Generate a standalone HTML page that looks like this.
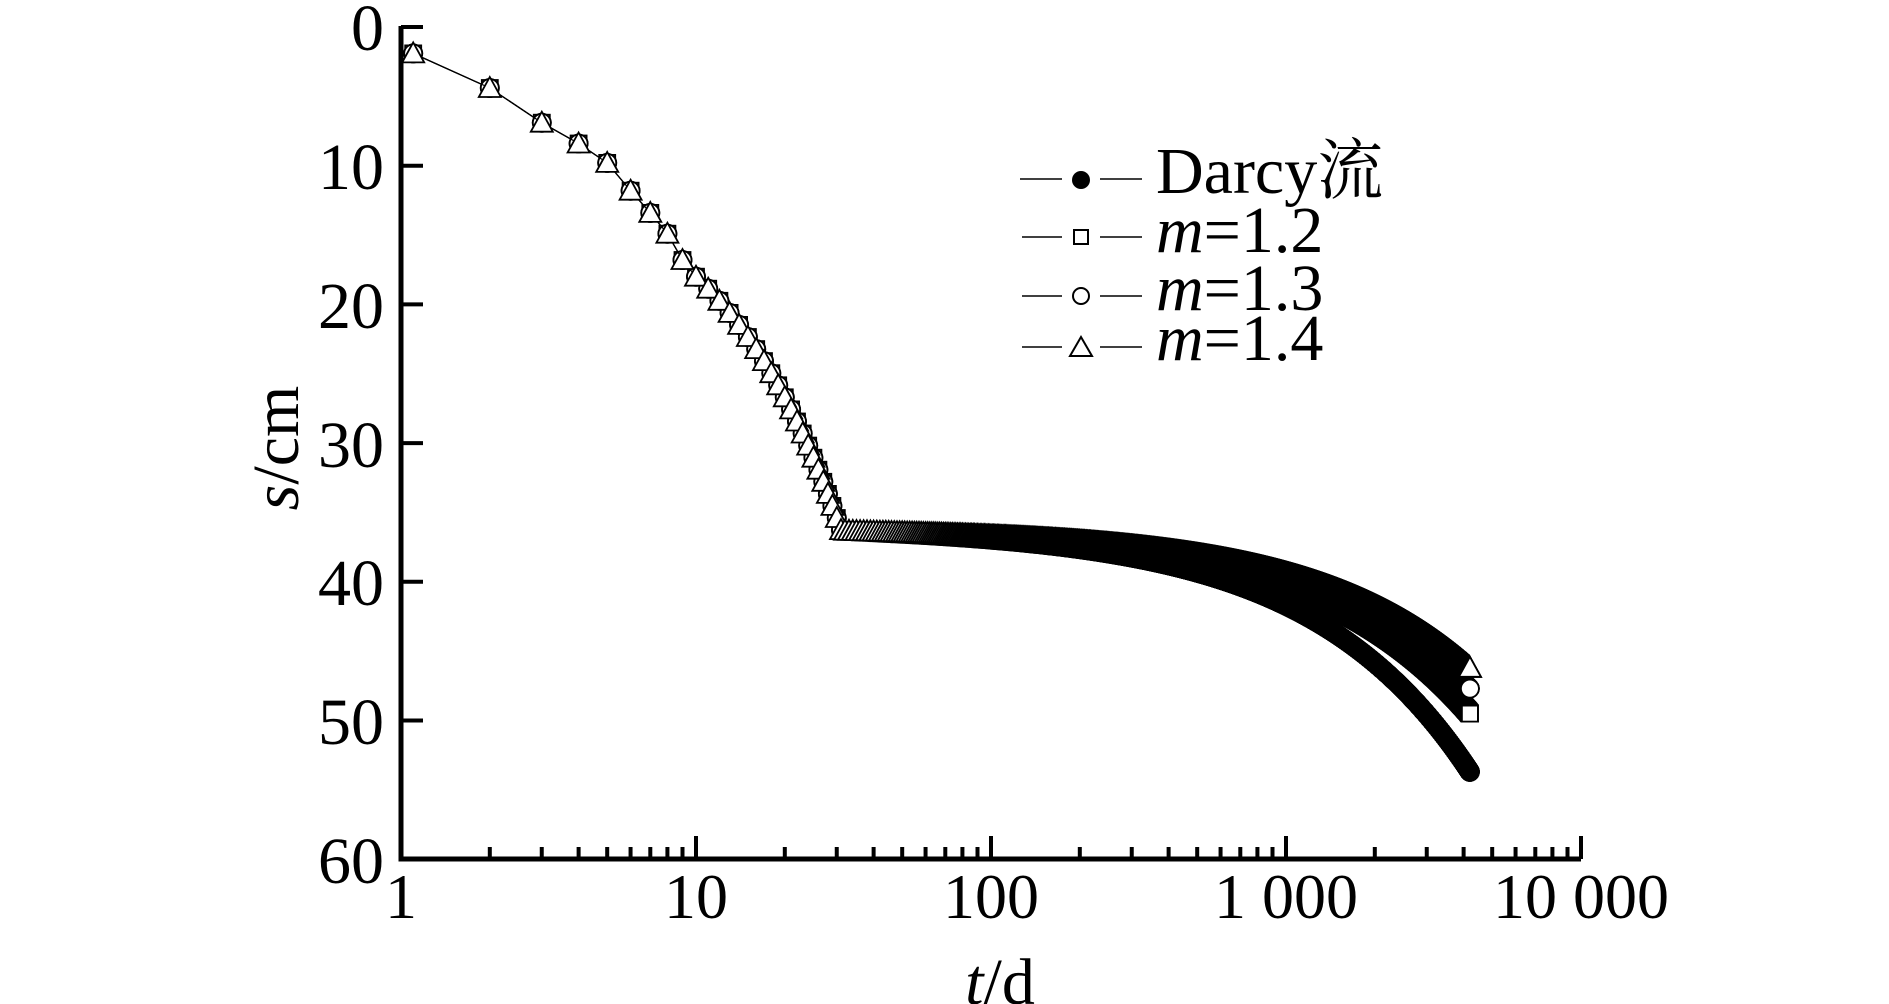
<!DOCTYPE html>
<html><head><meta charset="utf-8"><style>
html,body{margin:0;padding:0;background:#fff;width:1889px;height:1004px;overflow:hidden}
svg{display:block}
text{font-family:"Liberation Serif","Noto Serif CJK SC",serif;fill:#000}
</style></head><body>
<svg id="s" width="1889" height="1004" viewBox="0 0 1889 1004" xmlns="http://www.w3.org/2000/svg">
<g id="data"></g>
<g stroke="#000" stroke-width="5" fill="none">
<path d="M401 26 V859 H1581"/>
</g>
<g id="ticks" stroke="#000" stroke-width="4"></g>
<g font-size="66" text-anchor="end">
<text x="384" y="50">0</text>
<text x="384" y="189">10</text>
<text x="384" y="328">20</text>
<text x="384" y="467">30</text>
<text x="384" y="605">40</text>
<text x="384" y="744">50</text>
<text x="384" y="883">60</text>
</g>
<g font-size="64" text-anchor="middle">
<text x="401" y="918">1</text>
<text x="696" y="918">10</text>
<text x="991" y="918">100</text>
<text x="1286" y="918">1 000</text>
<text x="1581" y="918">10 000</text>
</g>
<text x="1000" y="1004" font-size="66" text-anchor="middle"><tspan font-style="italic">t</tspan>/d</text>
<text transform="translate(298,448) rotate(-90)" font-size="66" text-anchor="middle"><tspan font-style="italic">s</tspan>/cm</text>
<g stroke="#000" stroke-width="1.5" fill="none">
<path d="M1020 179H1062M1100 179H1142"/>
<path d="M1022 237H1062M1100 237H1142"/>
<path d="M1022 296H1062M1100 296H1142"/>
<path d="M1022 347H1062M1100 347H1142"/>
</g>
<circle cx="1081" cy="180" r="9" fill="#000"/>
<rect x="1074" y="230" width="14" height="14" fill="#fff" stroke="#000" stroke-width="2"/>
<circle cx="1081" cy="296" r="8" fill="#fff" stroke="#000" stroke-width="2"/>
<path d="M1081 337 L1092 356 L1070 356Z" fill="#fff" stroke="#000" stroke-width="2"/>
<g font-size="66">
<text x="1156" y="193">Darcy流</text>
<text x="1156" y="252"><tspan font-style="italic">m</tspan>=1.2</text>
<text x="1156" y="310"><tspan font-style="italic">m</tspan>=1.3</text>
<text x="1156" y="360"><tspan font-style="italic">m</tspan>=1.4</text>
</g>
</svg>
<script>
(function(){
var NS="http://www.w3.org/2000/svg";
function X(t){return 401+295*Math.log10(t);}
function Y(s){return 27+13.87*s;}
var tk=document.getElementById('ticks');
function ln(x1,y1,x2,y2){var l=document.createElementNS(NS,'line');l.setAttribute('x1',x1);l.setAttribute('y1',y1);l.setAttribute('x2',x2);l.setAttribute('y2',y2);tk.appendChild(l);}
for(var i=0;i<=60;i+=10){ln(401,Y(i),423,Y(i));}
for(var d=1;d<=1000;d*=10){for(var k=1;k<=10;k++){var t=d*k;var x=X(t);if(x>1583)continue;ln(x,859,x,(k==1||k==10)?836:847);}}
var early={1:1.9,2:4.4,3:6.9,4:8.4,5:9.8,6:11.8,7:13.4,8:14.9,9:16.8,10:18};
function base(t){if(t<=10)return early[t];if(t<=31)return 18+(t-10)*0.87;return null;}
var ends=[17.4,13.2,11.4,9.9];
var P=0.8, TE=Math.pow(4200-31,P);
function s(t,i){var b=base(t);if(b!==null)return b;return 36.3+ends[i]*Math.pow(t-31,P)/TE;}
var g=document.getElementById('data');
var html='';
for(var i=0;i<4;i++){
  var pts=[];
  for(var t=1;t<=4200;t++){pts.push((t==1?X(1.1):X(t)).toFixed(1)+','+Y(s(t,i)).toFixed(1));}
  html+='<polyline points="'+pts.join(' ')+'" fill="none" stroke="#000" stroke-width="1.2"/>';
  var m='';
  for(var t=1;t<=4200;t++){
    var x=(t==1?X(1.1):X(t)),y=Y(s(t,i));
    if(i==0) m+='<circle cx="'+x.toFixed(1)+'" cy="'+y.toFixed(1)+'" r="10"/>';
    else if(i==1) m+='<rect x="'+(x-8).toFixed(1)+'" y="'+(y-8).toFixed(1)+'" width="16" height="16"/>';
    else if(i==2) m+='<circle cx="'+x.toFixed(1)+'" cy="'+y.toFixed(1)+'" r="9"/>';
    else m+='<path d="M'+x.toFixed(1)+' '+(y-11).toFixed(1)+'l11 20h-22z"/>';
  }
  if(i==0) html+='<g fill="#000">'+m+'</g>';
  else html+='<g fill="#fff" stroke="#000" stroke-width="1.8">'+m+'</g>';
}
g.innerHTML=html;
var c=document.createElementNS(NS,'rect');c.setAttribute('x',0);c.setAttribute('y',0);c.setAttribute('width',403);c.setAttribute('height',860);c.setAttribute('fill','#fff');g.appendChild(c);
})();
</script>
</body></html>
